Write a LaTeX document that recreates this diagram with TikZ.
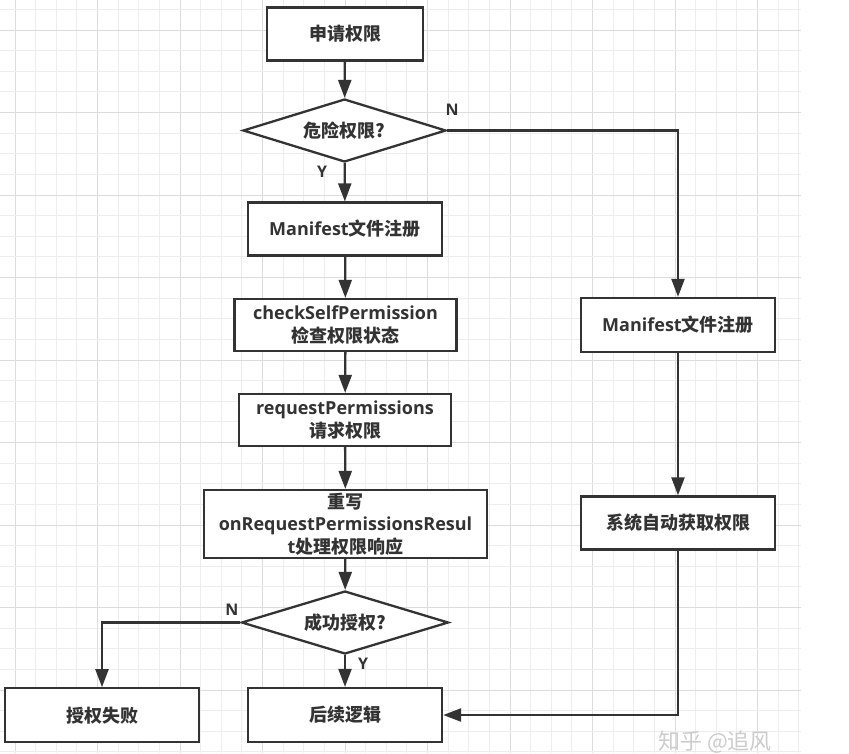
\documentclass[tikz,border=0pt]{standalone}
\usepackage{fontspec}
\setmainfont{Open Sans}
\newfontfamily\cjk{Noto Sans CJK SC}
\usetikzlibrary{shapes.geometric,arrows.meta}
\definecolor{ink}{HTML}{333333}
\definecolor{gridminor}{HTML}{EDEDED}
\definecolor{gridmajor}{HTML}{DCDCDC}
\definecolor{wm}{HTML}{CCCCCC}
\begin{document}
\begin{tikzpicture}[x=1pt,y=-1pt,
  box/.style={draw=ink, line width=2.3pt, fill=white, rectangle, inner sep=0pt,
    align=center, text=ink, font=\fontsize{18}{22.5}\selectfont\bfseries},
  dec/.style={draw=ink, line width=2.3pt, fill=white, diamond, aspect=3.2,
    inner sep=0pt, text=ink, font=\fontsize{18}{22}\selectfont\bfseries},
  conn/.style={draw=ink, line width=2.3pt, -{Triangle[length=18pt,width=13pt]}},
  lbl/.style={text=ink, font=\fontsize{16}{16}\selectfont\bfseries, inner sep=0pt},
  gmin/.style={draw=gridminor, line width=1pt},
  gmaj/.style={draw=gridmajor, line width=1pt}]
\useasboundingbox (0,0) rectangle (849,753);
\fill[white] (0,0) rectangle (849,753);
% grid
\foreach \k in {0,...,38}{
  \pgfmathtruncatemacro{\m}{mod(\k,4)}
  \ifnum\m=0 \draw[gmaj] ({15+20.625*\k},0) -- ({15+20.625*\k},753);
  \else \draw[gmin] ({15+20.625*\k},0) -- ({15+20.625*\k},753); \fi
}
\foreach \k in {0,...,36}{
  \pgfmathtruncatemacro{\m}{mod(\k+3,4)}
  \ifnum\m=0 \draw[gmaj] (0,{9.375+20.625*\k}) -- (801,{9.375+20.625*\k});
  \else \draw[gmin] (0,{9.375+20.625*\k}) -- (801,{9.375+20.625*\k}); \fi
}
% nodes
\node[box, minimum width=156pt, minimum height=53pt] (n1) at (345,34) {\cjk\bfseries 申请权限};
\node[dec, minimum width=203pt, minimum height=63pt] (d1) at (344.5,130.5) {\cjk\bfseries 危险权限?};
\node[box, minimum width=194pt, minimum height=53pt] (m1) at (345,229) {Manifest{\cjk\bfseries 文件注册}};
\node[box, minimum width=222pt, minimum height=52pt] (c1) at (345.5,325) {checkSelfPermission\\{\cjk\bfseries 检查权限状态}};
\node[box, minimum width=212pt, minimum height=52pt] (r1) at (345,420) {requestPermissions\\{\cjk\bfseries 请求权限}};
\node[box, minimum width=283pt, minimum height=68pt] (o1) at (345.5,524) {{\cjk\bfseries 重写}\\onRequestPermissionsResul\\t{\cjk\bfseries 处理权限响应}};
\node[dec, minimum width=207pt, minimum height=63pt] (d2) at (345,622.5) {\cjk\bfseries 成功授权?};
\node[box, minimum width=194pt, minimum height=54pt] (f1) at (345,715) {\cjk\bfseries 后续逻辑};
\node[box, minimum width=194pt, minimum height=54pt] (x1) at (102,715.3) {\cjk\bfseries 授权失败};
\node[box, minimum width=194pt, minimum height=54pt] (m2) at (678,325) {Manifest{\cjk\bfseries 文件注册}};
\node[box, minimum width=194pt, minimum height=53pt] (s1) at (678,523) {\cjk\bfseries 系统自动获取权限};
% connectors
\draw[conn] (n1) -- (d1);
\draw[conn] (d1) -- (m1);
\draw[conn] (d1.east) -| (m2.north);
\draw[conn] (m1) -- (c1);
\draw[conn] (c1) -- (r1);
\draw[conn] (r1) -- (o1);
\draw[conn] (o1) -- (d2);
\draw[conn] (d2) -- (f1);
\draw[conn] (d2.west) -| (x1.north);
\draw[conn] (m2) -- (s1);
\draw[conn] (s1.south) |- (f1.east);
% labels
\node[lbl] (ln1) at (452,110) {N};
\node[lbl] (ly1) at (322,172) {Y};
\node[lbl] (ln2) at (232,610) {N};
\node[lbl] (ly2) at (363,664) {Y};
% watermark
\node[text=wm, inner sep=0pt, font=\fontsize{22}{22}\selectfont] (wmk) at (715,742) {\cjk 知乎 @追风};
\end{tikzpicture}
\end{document}
